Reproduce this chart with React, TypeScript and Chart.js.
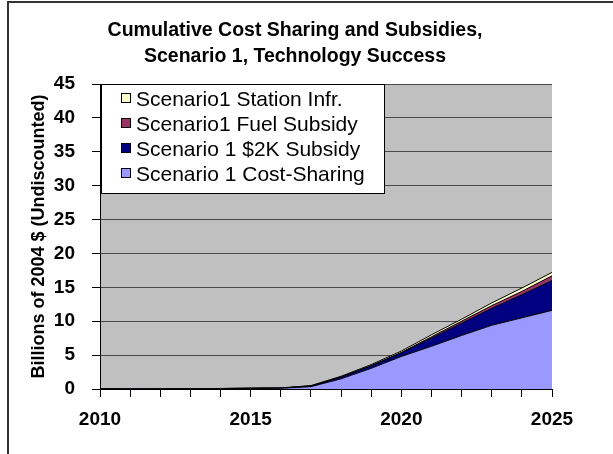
import React, { useEffect, useRef } from "react";
import { Chart, registerables } from "chart.js";

Chart.register(...registerables);

const years = [2010, 2011, 2012, 2013, 2014, 2015, 2016, 2017, 2018, 2019, 2020, 2021, 2022, 2023, 2024, 2025];
const costSharing = [0.01, 0.02, 0.03, 0.04, 0.06, 0.08, 0.1, 0.35, 1.5, 3.05, 4.8, 6.3, 7.9, 9.4, 10.5, 11.6];
const subsidy2K = [0, 0, 0, 0, 0.01, 0.02, 0.03, 0.08, 0.25, 0.35, 0.5, 1.2, 1.8, 2.5, 3.4, 4.4];
const fuelSubsidy = [0, 0, 0, 0, 0, 0.01, 0.01, 0.02, 0.03, 0.05, 0.1, 0.2, 0.3, 0.4, 0.5, 0.7];
const stationInfr = [0.01, 0.01, 0.01, 0.01, 0.01, 0.02, 0.02, 0.05, 0.1, 0.15, 0.2, 0.3, 0.3, 0.4, 0.5, 0.5];

const seriesNames = [
  "Scenario 1 Cost-Sharing",
  "Scenario 1 $2K Subsidy",
  "Scenario1 Fuel Subsidy",
  "Scenario1 Station Infr.",
];
const seriesColors = ["#9999FF", "#000080", "#993366", "#FFFFCC"];
const titleLines = ["Cumulative Cost Sharing and Subsidies,", "Scenario 1, Technology Success"];
const yAxisTitle = "Billions of 2004 $ (Undiscounted)";
const yMin = 0;
const yMax = 45;
const yStep = 5;
const xLabelEvery = 5;

const FONT = "'Liberation Sans', Arial, Helvetica, sans-serif";

const decorPlugin = {
  id: "decor",
  beforeDraw(chart: any) {
    const { ctx, chartArea } = chart;
    ctx.save();
    ctx.fillStyle = "#C0C0C0";
    ctx.fillRect(chartArea.left, chartArea.top, chartArea.right - chartArea.left, chartArea.bottom - chartArea.top);
    // outer frame
    ctx.strokeStyle = "#333333";
    ctx.lineWidth = 2;
    ctx.beginPath();
    ctx.moveTo(8, chart.height + 2);
    ctx.lineTo(8, 2);
    ctx.lineTo(chart.width + 2, 2);
    ctx.stroke();
    ctx.restore();
  },
  afterDraw(chart: any) {
    const { ctx } = chart;
    ctx.save();
    // title
    ctx.fillStyle = "#000";
    ctx.font = `bold 19.5px ${FONT}`;
    ctx.textAlign = "center";
    ctx.textBaseline = "alphabetic";
    ctx.fillText(titleLines[0], 295, 36);
    ctx.fillText(titleLines[1], 295, 62);

    // legend
    const bx = 101.5, by = 84.5, bw = 283, bh = 109;
    ctx.fillStyle = "#FFFFFF";
    ctx.fillRect(bx, by, bw, bh);
    ctx.strokeStyle = "#000";
    ctx.lineWidth = 1;
    ctx.strokeRect(bx, by, bw, bh);
    const ds = chart.data.datasets.slice().reverse();
    ctx.font = `21px ${FONT}`;
    ctx.textAlign = "left";
    ds.forEach((d: any, i: number) => {
      const yc = 98 + i * 25;
      ctx.fillStyle = d.backgroundColor;
      ctx.fillRect(121.5, yc - 4.5, 9, 9);
      ctx.strokeStyle = "#000";
      ctx.strokeRect(121.5, yc - 4.5, 9, 9);
      ctx.fillStyle = "#000";
      ctx.fillText(d.label, 136, yc + 7.5);
    });
    ctx.restore();
  },
};

export default function App() {
  const ref = useRef<HTMLCanvasElement | null>(null);

  useEffect(() => {
    const canvas = ref.current;
    if (!canvas) return;
    const series = [costSharing, subsidy2K, fuelSubsidy, stationInfr];
    const chart = new Chart(canvas, {
      type: "line",
      data: {
        datasets: series.map((arr, i) => ({
          label: seriesNames[i],
          data: years.map((x, j) => ({ x, y: arr[j] })),
          backgroundColor: seriesColors[i],
          borderColor: "#000000",
          borderWidth: 1,
          pointRadius: 0,
          tension: 0,
          fill: i === 0 ? "origin" : "-1",
        })),
      },
      options: {
        responsive: false,
        animation: false,
        devicePixelRatio: 1,
        layout: { padding: { left: 28, right: 61, top: 84, bottom: 0 } },
        plugins: {
          legend: { display: false },
          title: { display: false },
          tooltip: { enabled: false },
        },
        scales: {
          x: {
            type: "linear",
            min: years[0],
            max: years[years.length - 1],
            ticks: {
              stepSize: 1,
              autoSkip: false,
              maxRotation: 0,
              padding: 11,
              color: "#000",
              font: { family: FONT, size: 19, weight: "bold" },
              callback: (v: any) => (Number(v) % xLabelEvery === 0 ? String(v) : ""),
            },
            grid: { drawOnChartArea: false, drawTicks: true, tickLength: 8, tickColor: "#000", color: "#000" },
            border: { color: "#000", width: 1 },
            afterFit: (s: any) => {
              s.height = 65;
            },
          },
          y: {
            stacked: true,
            min: yMin,
            max: yMax,
            ticks: {
              stepSize: yStep,
              padding: 17,
              color: "#000",
              font: { family: FONT, size: 19, weight: "bold" },
            },
            grid: { color: "#4a4a4a", tickLength: 8, tickColor: "#000" },
            border: { color: "#000", width: 1 },
            title: {
              display: true,
              text: yAxisTitle,
              color: "#000",
              padding: 0,
              font: { family: FONT, size: 18, weight: "bold" },
            },
            afterFit: (s: any) => {
              s.width = 72;
            },
          },
        },
      },
      plugins: [decorPlugin],
    });
    return () => chart.destroy();
  }, []);

  return (
    <div style={{ position: "fixed", left: 0, top: 0, width: 613, height: 454, background: "#fff", overflow: "hidden" }}>
      <canvas ref={ref} width={613} height={454} style={{ display: "block", width: 613, height: 454 }} />
    </div>
  );
}
